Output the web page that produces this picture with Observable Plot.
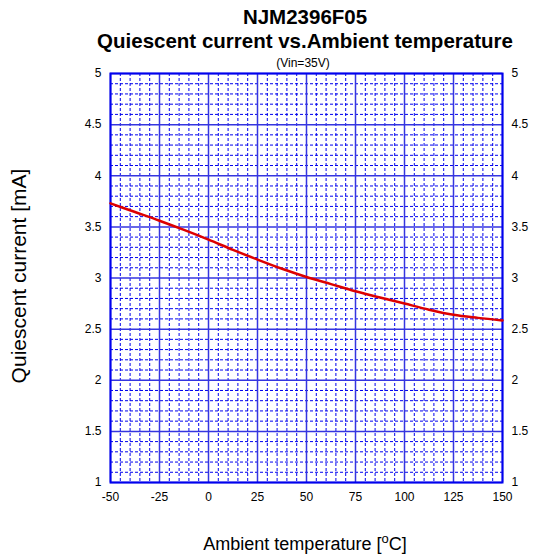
<!DOCTYPE html>
<html>
<head>
<meta charset="utf-8">
<script src="https://cdn.jsdelivr.net/npm/d3@7"></script>
<script src="https://cdn.jsdelivr.net/npm/@observablehq/plot@0.6"></script>
<style>
  html, body { margin: 0; padding: 0; background: #fff; }
  #chart { width: 543px; height: 560px; }
</style>
</head>
<body>
<div id="chart"></div>
<script>
// Data
const temperature = [-50, -37.5, -25, -12.5, 0, 12.5, 25, 37.5, 50, 62.5, 75, 87.5, 100, 112.5, 125, 137.5, 150];
const current =     [3.73, 3.645, 3.56, 3.47, 3.375, 3.275, 3.18, 3.09, 3.01, 2.94, 2.87, 2.81, 2.75, 2.69, 2.64, 2.61, 2.585];

const xTicks = [-50, -25, 0, 25, 50, 75, 100, 125, 150];
const yTicks = [1, 1.5, 2, 2.5, 3, 3.5, 4, 4.5, 5];
const xMinor = d3.range(-50, 150.01, 5).filter(v => !xTicks.includes(v));
const yMinor = d3.range(10, 50.01, 1).map(v => v / 10).filter(v => !yTicks.includes(v));

const titleText = "NJM2396F05";
const subtitleText = "Quiescent current vs.Ambient temperature";
const conditionText = "(Vin=35V)";
const xLabel = "Ambient temperature [";
const yLabel = "Quiescent current [mA]";

const data = temperature.map((t, i) => ({t, c: current[i]}));

const gridBlue = "#0000ee";
const plot = Plot.plot({
  width: 543,
  height: 560,
  marginLeft: 110,
  marginRight: 41,
  marginTop: 73,
  marginBottom: 78,
  x: {domain: [-50, 150]},
  y: {domain: [1, 5]},
  style: {fontFamily: "'Liberation Sans', Arial, sans-serif", fontSize: "12px", background: "#fff", color: "#000"},
  marks: [
    Plot.ruleX(xMinor, {stroke: gridBlue, strokeWidth: 1, strokeDasharray: "3,2"}),
    Plot.ruleY(yMinor, {stroke: gridBlue, strokeWidth: 1, strokeDasharray: "3,2"}),
    Plot.ruleX(xTicks, {stroke: "#3535e0", strokeWidth: 1.5}),
    Plot.ruleY(yTicks, {stroke: "#3535e0", strokeWidth: 1.5}),
    Plot.frame({stroke: gridBlue, strokeWidth: 2}),
    Plot.line(data, {x: "t", y: "c", stroke: "#dd0000", strokeWidth: 2.5, curve: "monotone-x"}),
    Plot.axisX({ticks: xTicks, tickSize: 0, tickPadding: 10, label: null, tickFormat: d => String(d), fill: "#000"}),
    Plot.axisY({anchor: "left", ticks: yTicks, tickSize: 0, tickPadding: 9, label: null, tickFormat: d => String(d), fill: "#000"}),
    Plot.axisY({anchor: "right", ticks: yTicks, tickSize: 0, tickPadding: 9, label: null, tickFormat: d => String(d), fill: "#000"})
  ]
});
document.getElementById("chart").appendChild(plot);

const svg = d3.select(plot);
const ff = "'Liberation Sans', Arial, sans-serif";
svg.append("text").attr("x", 305).attr("y", 24).attr("text-anchor", "middle")
  .attr("font-family", ff).attr("font-size", 20.5).attr("font-weight", "bold").attr("fill", "#000").text(titleText);
svg.append("text").attr("x", 305).attr("y", 48).attr("text-anchor", "middle")
  .attr("font-family", ff).attr("font-size", 20.5).attr("font-weight", "bold").attr("fill", "#000").text(subtitleText);
svg.append("text").attr("x", 303).attr("y", 67).attr("text-anchor", "middle")
  .attr("font-family", ff).attr("font-size", 12).attr("fill", "#000").text(conditionText);

const xl = svg.append("text").attr("x", 305).attr("y", 550).attr("text-anchor", "middle")
  .attr("font-family", ff).attr("font-size", 18).attr("fill", "#000");
xl.append("tspan").text(xLabel);
xl.append("tspan").attr("dy", -7).attr("font-size", 13).text("o");
xl.append("tspan").attr("dy", 7).text("C]");

svg.append("text").attr("transform", "translate(26,276) rotate(-90)").attr("text-anchor", "middle")
  .attr("font-family", ff).attr("font-size", 21).attr("fill", "#000").text(yLabel);
</script>
</body>
</html>
